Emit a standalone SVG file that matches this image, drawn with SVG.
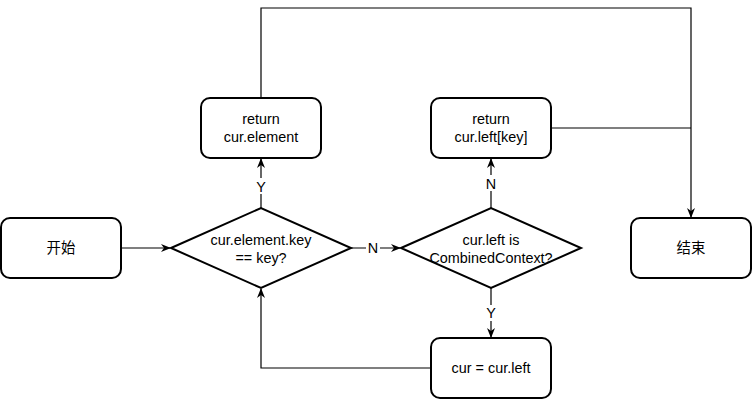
<svg xmlns="http://www.w3.org/2000/svg" width="754" height="402" viewBox="0 0 754 402">
<defs>
<marker id="arr" markerUnits="userSpaceOnUse" markerWidth="10" markerHeight="10" viewBox="0 0 10 10" refX="9" refY="5" orient="auto">
<path d="M0,1 L10,5 L0,9 L3,5 Z" fill="#000" stroke="none"/>
</marker>
</defs>
<style>
.box{fill:#fff;stroke:#000;stroke-width:2}
.t{font-family:"Liberation Sans",Arial,"Noto Sans CJK SC",sans-serif;font-size:14.4px;fill:#000;text-anchor:middle}
.e{fill:none;stroke:#000;stroke-width:1.2}
.lb{fill:#fff}
</style>
<rect width="754" height="402" fill="#fff"/>
<g id="connectors">
<path class="e" d="M121,248 L170,248" marker-end="url(#arr)"/>
<path class="e" d="M351,248 L400,248" marker-end="url(#arr)"/>
<path class="e" d="M261,208 L261,159" marker-end="url(#arr)"/>
<path class="e" d="M261,98 L261,8 L691,8 L691,217" marker-end="url(#arr)"/>
<path class="e" d="M551,128 L691,128"/>
<path class="e" d="M491,208 L491,159" marker-end="url(#arr)"/>
<path class="e" d="M491,288 L491,337" marker-end="url(#arr)"/>
<path class="e" d="M431,368 L261,368 L261,289" marker-end="url(#arr)"/>
<rect class="lb" x="255" y="178" width="12" height="16"/>
<text class="t" x="261" y="192">Y</text>
<rect class="lb" x="485" y="175" width="12" height="16"/>
<text class="t" x="491" y="189">N</text>
<rect class="lb" x="366" y="240" width="14" height="16"/>
<text class="t" x="373" y="253">N</text>
<rect class="lb" x="485" y="305" width="12" height="16"/>
<text class="t" x="491" y="318">Y</text>
</g>
<g id="start">
<rect class="box" x="1" y="218" width="120" height="60" rx="9"/>
<text class="t" x="61" y="253">开始</text>
</g>
<g id="check-key">
<path class="box" d="M171,248 L261,208 L351,248 L261,288 Z"/>
<text class="t" x="261" y="245">cur.element.key</text>
<text class="t" x="261" y="263">== key?</text>
</g>
<g id="return-element">
<rect class="box" x="201" y="98" width="120" height="60" rx="9"/>
<text class="t" x="261" y="124">return</text>
<text class="t" x="261" y="142">cur.element</text>
</g>
<g id="check-combined">
<path class="box" d="M401,248 L491,208 L581,248 L491,288 Z"/>
<text class="t" x="491" y="245">cur.left is</text>
<text class="t" x="491" y="263">CombinedContext?</text>
</g>
<g id="return-left">
<rect class="box" x="431" y="98" width="120" height="60" rx="9"/>
<text class="t" x="491" y="124">return</text>
<text class="t" x="491" y="142">cur.left[key]</text>
</g>
<g id="cur-left">
<rect class="box" x="431" y="338" width="120" height="60" rx="9"/>
<text class="t" x="491" y="373">cur = cur.left</text>
</g>
<g id="end">
<rect class="box" x="631" y="218" width="120" height="60" rx="9"/>
<text class="t" x="691" y="253">结束</text>
</g>
</svg>
